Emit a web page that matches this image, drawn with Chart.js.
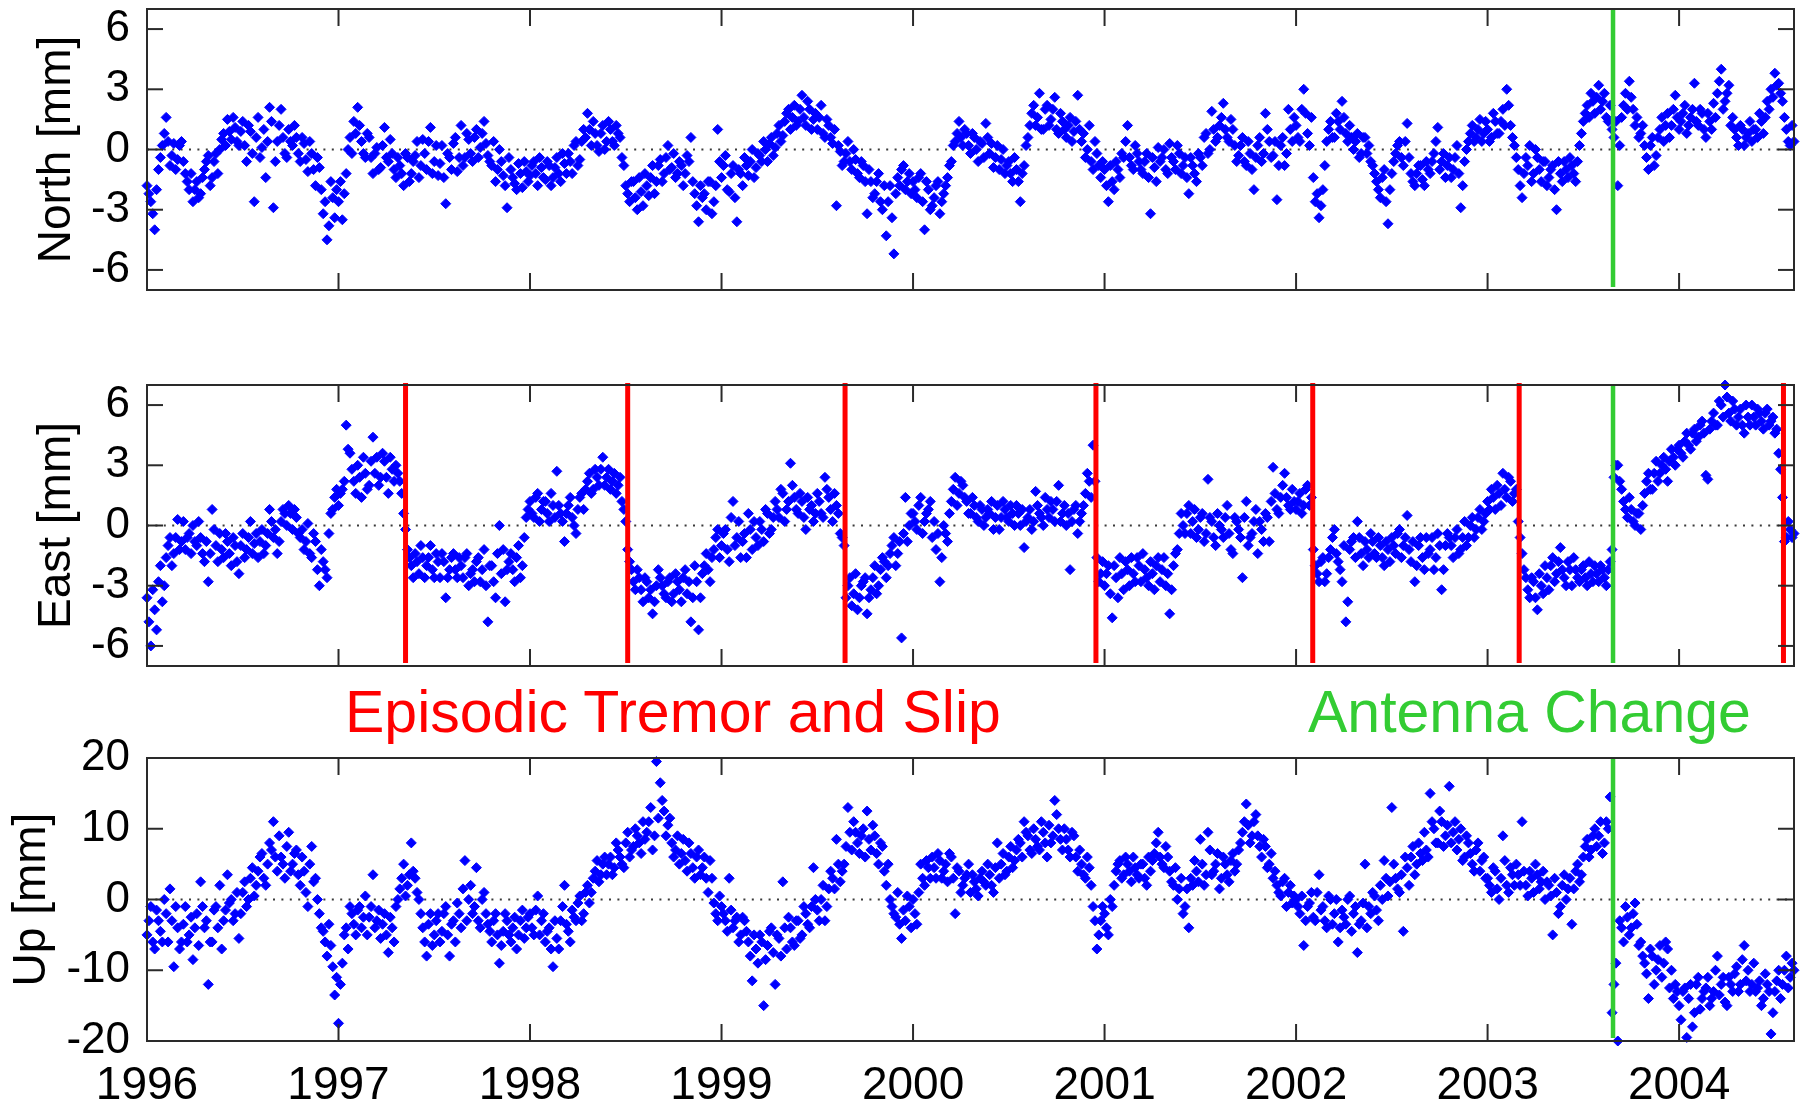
<!DOCTYPE html>
<html lang="en">
<head>
<meta charset="UTF-8">
<title>GPS time series</title>
<script src="https://cdn.jsdelivr.net/npm/chart.js"></script>
<style>
  body { margin: 0; background: #fff; }
  .wrap { position: relative; width: 1800px; height: 1103px; }
  canvas { position: absolute; left: 0; }
  .note { position: absolute; font-family: 'Liberation Sans', Arial, sans-serif; font-size: 59px; line-height: 59px; white-space: nowrap; }
</style>
</head>
<body>
<div class="wrap">
  <canvas id="north" width="1800" height="300" style="top:0"></canvas>
  <canvas id="east" width="1800" height="300" style="top:375px"></canvas>
  <canvas id="up" width="1800" height="403" style="top:700px"></canvas>
  <div class="note" style="left:345px;top:683px;color:#ff0000">Episodic Tremor and Slip</div>
  <div class="note" style="left:1308px;top:683px;color:#33cc33">Antenna Change</div>
</div>
<script>
// solutions every 0.02 yr from 1996.00, plus the in-between days (from 1996.01)
const t0 = 1996, dt = 0.02;

const north = [
  -1.8,-2.6,-4.0,-1.0,0.2,1.6,-0.8,0.3,-0.5,0.4,-1.2,-2.0,-2.6,-1.6,-2.2,-1.0,-0.3,-1.4,-0.2,0.0,0.8,1.5,0.5,1.1,0.2,
  1.4,-0.6,0.9,-2.6,1.6,0.1,-1.4,2.1,-2.9,0.4,2.0,-0.2,1.0,0.2,0.6,-0.6,0.3,-1.1,-0.2,-1.8,-0.9,-3.2,-4.5,-1.6,-3.4,
  -2.6,-3.5,-1.2,0.6,1.4,2.1,0.4,-0.4,0.6,-1.2,0.1,-0.9,1.1,-0.6,-0.2,-1.4,-0.8,-1.8,-0.4,-1.2,-0.3,-1.4,0.5,-1.0,1.1,
  -0.6,-1.3,0.2,-2.7,-0.4,0.3,-1.1,1.2,-0.4,0.5,-0.6,1.0,0.1,1.4,-0.3,-0.8,-1.6,0.0,-1.3,-2.9,-1.0,-1.7,-0.7,-1.9,-1.1,
  -1.3,-0.6,-1.8,-0.9,-1.5,-0.8,-1.4,-0.4,-1.6,-0.7,-0.2,-1.2,0.4,-0.5,1.0,1.8,0.2,0.8,-0.1,1.2,0.4,1.0,0.2,0.8,-0.4,
  -1.8,-2.6,-1.6,-3.0,-2.1,-1.2,-2.3,-0.8,-1.6,-0.5,-1.2,0.2,-0.9,-1.4,-0.6,-1.8,-0.3,0.6,-2.2,-3.6,-2.4,-3.0,-1.6,-2.6,1.0,
  -1.4,-0.3,-2.1,-0.8,-3.6,-1.2,-0.4,-1.3,0.0,-0.9,-0.3,0.4,-0.6,0.6,0.1,1.2,0.7,1.8,1.0,2.2,1.4,2.7,1.2,2.0,1.5,
  1.0,2.2,0.6,1.2,0.3,-2.8,-0.1,-0.6,0.4,-1.0,-0.5,-1.4,-0.8,-3.2,-1.6,-2.2,-1.2,-3.0,-4.3,-1.8,-5.2,-1.4,-1.0,-2.0,-1.2,
  -1.6,-2.4,-1.2,-4.0,-2.0,-2.8,-1.8,-3.2,-2.2,-1.4,-0.6,0.4,1.4,0.2,0.8,-0.2,0.6,-0.6,0.3,1.3,-0.2,-0.9,0.2,-0.5,-1.2,
  -0.6,-1.6,-1.0,-2.6,-0.8,0.6,1.8,1.2,2.8,1.0,2.2,1.5,2.6,0.8,1.4,0.6,1.6,0.9,2.7,0.4,-0.4,1.2,-1.0,-0.2,-1.4,
  -1.0,-2.6,-1.6,-0.6,-1.4,-0.4,1.2,-0.8,0.2,-0.6,-1.2,-0.2,-3.2,-0.9,0.1,-0.4,-1.0,0.3,-0.6,0.2,-1.2,-0.4,-2.2,-0.8,-1.6,
  -0.4,0.6,-0.2,1.9,0.4,1.2,2.3,0.6,1.5,0.2,-0.3,0.6,-0.8,-0.2,-2.0,0.2,-0.6,1.8,0.4,-0.3,-2.5,0.2,-0.8,2.0,0.4,
  1.2,0.4,3.0,0.8,1.6,-2.6,-3.4,-2.0,0.4,1.4,0.6,1.4,2.4,0.8,1.2,0.0,0.8,-0.2,0.6,0.2,-0.8,-1.6,-2.4,-1.0,-3.7,
  -1.2,-0.2,0.4,-0.8,1.3,-1.2,-1.8,-0.8,-1.5,-0.6,-1.2,-0.2,1.1,-0.6,-1.4,-0.4,-1.0,0.2,-2.9,-0.6,0.4,1.2,0.6,1.5,0.8,
  1.0,0.6,1.4,0.8,2.0,3.0,1.2,0.2,-1.0,-2.4,-0.4,0.2,-1.2,-0.4,-1.6,-0.6,-1.4,-0.8,-3.0,-1.2,-0.6,-1.4,-0.8,-1.6,0.2,
  1.4,2.2,2.8,1.8,3.2,2.4,1.6,2.2,0.6,-1.8,1.6,2.8,3.4,2.0,1.6,0.8,0.2,-1.0,0.6,-0.3,1.0,0.4,1.8,1.2,2.7,
  1.0,1.8,0.8,1.6,3.3,1.2,1.8,0.6,1.4,2.3,2.8,4.0,2.4,3.2,1.6,0.6,1.2,0.2,0.8,0.4,1.0,1.8,0.8,2.4,3.0,3.8,3.3,2.4,1.0,0.2,0.4
];
const northMid = [
  -2.2,-3.2,-2.0,-0.4,0.8,0.4,-0.3,-1.0,0.2,-0.6,-1.6,-1.2,-2.0,-2.4,-1.4,-0.6,-1.8,-0.6,-1.2,0.5,0.2,0.9,1.6,0.4,0.9,
  0.2,1.2,-0.2,0.6,-0.4,1.0,0.4,1.4,-0.6,1.2,0.6,-0.4,0.4,1.2,-0.2,0.6,-0.5,0.4,-1.0,-0.4,-2.0,-2.6,-3.8,-2.4,-2.0,
  -1.6,-2.2,0.0,-0.2,0.8,1.2,-0.2,0.8,-0.4,-0.2,-1.0,0.2,-0.4,0.5,-1.0,-0.4,-1.2,-0.2,-1.6,-0.6,0.4,-0.8,-0.2,0.4,-1.2,
  0.2,-0.7,-1.4,-0.2,-1.0,0.6,-0.4,-0.8,0.8,-0.2,0.6,-0.4,0.8,0.3,-0.6,0.4,-1.0,-0.6,-1.8,-0.4,-1.4,-2.0,-1.2,-0.6,-1.6,
  -0.8,-1.2,-0.4,-1.4,-0.6,-1.8,-0.9,-1.2,-0.2,-1.2,-0.6,0.2,-0.8,0.4,0.6,1.0,1.4,0.2,0.8,0.0,1.4,0.4,1.2,0.6,-0.8,
  -2.2,-1.6,-2.4,-1.4,-2.8,-1.8,-1.4,-2.2,-0.8,-1.6,-0.4,-1.0,-0.2,-1.2,-0.8,-1.2,-0.6,-1.6,-2.8,-1.8,-2.2,-1.6,-3.2,-1.8,-0.6,
  -0.8,-2.0,-1.2,-2.4,-1.0,-1.8,-0.8,-0.6,-1.4,-0.2,-0.6,0.0,0.3,-0.3,0.8,0.4,1.4,2.0,1.6,1.2,2.0,1.6,2.4,1.0,1.8,
  1.6,0.8,1.5,0.6,1.0,0.2,-0.8,-0.2,-0.6,0.0,-1.2,-0.6,-1.6,-1.0,-2.4,-1.6,-2.6,-1.8,-2.6,-3.4,-2.2,-1.8,-0.8,-1.6,-2.2,
  -2.0,-1.4,-2.6,-1.6,-3.0,-2.4,-1.6,-2.6,-1.8,-0.8,0.2,0.8,0.6,1.0,0.2,0.8,0.0,0.4,-0.4,0.6,0.3,-0.4,-1.0,0.0,-0.8,
  -1.2,-0.4,-1.6,-1.2,0.2,1.2,2.2,1.6,1.0,2.0,1.2,2.0,1.0,1.8,1.0,1.2,0.4,1.4,1.0,0.8,0.0,-0.6,0.4,-0.8,-0.6,
  -1.8,-0.8,-2.0,-1.0,-0.2,0.4,-0.4,-1.0,-0.2,-1.0,-0.6,-1.4,-0.4,-1.6,-0.6,0.0,-1.2,-0.4,-1.0,-0.2,-0.8,-1.4,-0.4,-1.2,-0.2,
  -0.8,0.8,0.0,1.0,0.6,1.6,1.0,0.4,1.0,-0.6,0.2,-0.6,0.4,-1.0,-0.4,0.6,-0.2,1.0,-0.4,0.4,-0.8,0.6,-0.2,1.0,1.6,
  0.6,2.0,1.8,0.2,-1.4,-2.2,-2.8,-0.8,1.0,0.6,1.8,1.0,1.6,0.4,0.6,0.4,-0.4,0.6,-0.2,-0.6,-1.2,-2.0,-1.4,-2.6,-2.0,
  -0.6,0.2,-0.4,0.4,-0.4,-1.6,-1.2,-0.8,-1.8,-1.0,-0.6,0.4,-1.0,-0.2,-0.8,-1.4,-0.4,-1.2,-1.8,0.0,0.8,0.4,1.0,0.4,1.4,
  0.4,1.8,0.8,1.4,1.2,2.2,0.6,-0.4,-1.8,-1.2,-0.8,-1.6,0.0,-1.0,-0.6,-1.8,-1.0,-2.0,-0.6,-1.6,-1.0,-0.4,-1.2,-0.6,0.8,
  1.8,1.6,2.4,2.6,2.0,2.8,1.4,1.0,1.4,0.2,2.2,2.0,2.6,1.2,0.6,1.2,-0.4,0.2,-0.8,0.6,1.6,1.2,0.6,2.0,1.6,
  1.4,2.2,1.2,2.0,1.4,2.0,1.0,1.8,1.0,1.6,3.4,2.0,2.8,1.2,1.0,0.2,1.0,0.6,1.4,1.0,0.6,1.4,1.6,2.0,2.6,3.2,2.8,1.6,0.4,1.2
];

const east = [
  -3.6,-6.0,-4.2,-2.8,-3.8,-1.6,-0.6,-1.4,0.3,-0.8,-1.2,-0.4,0.0,-1.0,-0.6,-1.8,-2.8,0.8,-1.0,-0.4,-1.6,-0.8,-2.0,-1.0,-2.4,
  -0.4,-1.2,0.2,-0.9,-1.6,-0.2,-1.0,0.8,-0.6,-1.4,0.2,0.6,1.0,-0.2,0.4,-0.6,-1.2,0.1,-1.6,-0.8,-3.0,-1.8,-2.6,0.6,1.4,
  1.0,1.8,5.0,3.6,2.2,3.0,1.4,2.6,2.0,4.4,3.4,2.4,3.2,1.6,2.8,3.0,2.2,0.6,-1.2,-2.0,-1.4,-2.4,-1.6,-2.0,-1.0,
  -2.6,-1.8,-1.4,-3.6,-2.2,-1.4,-2.6,-2.0,-1.6,-3.0,-2.2,-1.8,-2.8,-1.2,-4.8,-2.0,-3.6,0.0,-1.2,-2.2,-1.4,-2.8,-1.0,-2.0,0.4,
  1.2,0.4,1.6,0.8,1.2,0.2,1.0,2.7,0.6,-0.8,1.0,0.4,-0.4,1.4,0.8,2.2,1.6,2.8,2.0,3.4,2.4,1.8,2.6,2.0,1.2,
  0.2,-1.8,-2.8,-2.2,-3.2,-2.6,-3.6,-4.4,-3.0,-2.6,-3.4,-2.8,-3.8,-2.4,-3.2,-2.6,-3.4,-4.8,-2.0,-5.2,-2.4,-1.4,-2.8,-1.2,-0.2,
  -1.0,-0.2,-1.8,1.2,-0.6,-1.6,-0.4,0.6,-1.2,-0.6,0.2,-0.8,0.6,-0.2,1.2,0.4,1.6,0.8,3.1,1.4,0.6,1.2,-0.2,0.8,0.2,
  1.6,0.6,2.4,1.4,0.2,1.0,-0.4,-1.0,-3.0,-4.0,-2.4,-3.6,-2.8,-4.4,-3.2,-2.0,-3.0,-1.6,-2.6,-1.4,-0.6,-1.4,-5.6,1.4,0.0,
  0.6,-0.2,1.4,0.2,0.8,-0.6,-1.2,-2.8,0.0,-0.8,1.2,2.4,1.6,2.0,1.2,0.6,1.0,0.2,0.8,0.4,0.6,-0.2,1.0,0.4,0.8,
  0.2,0.6,1.0,0.0,-1.1,0.4,-0.2,1.7,0.6,0.0,0.8,1.2,0.2,2.0,0.6,0.0,-2.2,0.8,-0.4,0.6,1.6,2.2,4.0,-1.6,-2.4,
  -3.0,-2.0,-4.6,-2.6,-1.6,-3.2,-2.2,-1.6,-2.8,-2.0,-1.4,-2.6,-1.8,-3.2,-1.6,-2.2,-3.0,-4.4,-2.0,-1.2,0.6,-0.4,1.0,0.2,-0.6,
  0.4,-0.8,2.3,0.2,-1.0,0.0,-0.6,1.0,-1.2,0.4,-0.2,-2.6,1.2,-0.6,0.2,-1.4,-0.2,0.6,-0.8,2.9,0.8,1.4,2.6,1.0,1.8,
  0.8,1.6,1.0,2.0,1.4,-2.0,-2.8,-1.6,-2.4,-1.2,-0.2,-1.8,-2.8,-4.8,-1.2,-0.6,0.2,-1.4,-0.8,-1.6,-0.8,-1.6,-1.0,-2.0,-1.2,
  -0.6,-1.4,-0.2,-1.0,0.5,-1.8,-2.8,-1.0,-1.6,-0.6,-1.2,-2.2,-0.4,-3.2,-1.0,-0.6,-1.6,-0.2,-1.2,0.2,-0.6,0.4,-0.2,0.8,0.2,
  1.2,1.8,0.8,1.6,2.6,1.4,2.2,1.6,0.2,-1.4,-2.6,-3.6,-2.8,-4.2,-3.0,-2.0,-3.2,-1.6,-2.4,-1.1,-2.6,-1.8,-3.0,-2.2,-2.8,
  -2.0,-3.0,-2.4,-2.0,-2.8,-2.2,-3.0,-1.8,2.4,3.0,1.8,0.8,1.4,0.2,0.6,-0.2,1.6,2.6,1.8,3.2,2.6,3.4,2.2,3.8,3.0,
  4.0,3.4,4.6,3.8,4.8,4.4,5.2,2.5,4.8,5.6,5.0,6.0,7.0,5.6,6.2,5.0,5.8,4.6,5.4,6.0,5.0,5.6,4.8,5.8,5.2,4.6,3.6,1.4,-0.6,-0.2,-0.4
];
const eastMid = [
  -4.8,-3.2,-5.2,-2.0,-3.0,-1.0,-2.0,-0.6,-1.2,0.2,-0.6,-1.4,-0.8,0.2,-1.4,-0.8,-1.4,-0.2,-1.8,-1.2,-0.4,-1.4,-0.6,-1.8,-1.0,
  -1.6,-0.6,-1.4,-0.4,-0.8,-1.4,-0.4,0.2,-0.2,-0.8,0.8,0.0,0.6,0.8,-0.4,-0.2,-0.8,-1.4,-0.4,-2.2,-1.2,-2.2,-0.4,0.8,1.8,
  1.6,2.2,3.8,2.8,1.6,2.4,3.4,1.8,3.2,2.6,2.0,3.6,2.4,3.4,2.2,2.6,1.6,-0.2,-1.6,-2.6,-1.8,-1.0,-2.6,-1.6,-2.2,
  -1.4,-2.6,-1.8,-2.6,-1.6,-2.2,-1.6,-2.6,-1.4,-2.4,-2.8,-1.6,-2.2,-3.0,-2.0,-2.8,-1.4,-2.4,-3.8,-1.8,-2.2,-1.6,-2.6,-0.6,0.8,
  0.6,1.4,0.2,1.2,0.6,1.6,0.4,1.0,0.2,0.6,1.4,0.0,0.8,1.6,1.8,2.6,1.8,2.4,2.8,2.0,2.8,2.2,1.6,2.4,0.8,
  -1.2,-2.2,-3.2,-2.6,-3.8,-2.8,-3.2,-3.8,-2.2,-3.0,-3.6,-2.6,-3.4,-2.8,-3.8,-2.2,-2.8,-3.6,-2.8,-3.6,-2.0,-2.2,-1.6,-0.6,-1.6,
  -0.4,-1.2,0.4,-1.0,0.2,-0.8,-1.6,-0.2,0.2,-1.0,-0.2,0.8,-0.4,0.4,0.8,1.8,0.2,1.2,2.0,0.8,1.6,0.4,1.4,1.0,0.6,
  1.2,0.4,1.8,0.8,1.6,0.6,-0.6,-3.6,-2.6,-3.4,-4.2,-3.0,-2.6,-3.6,-2.6,-3.4,-2.2,-1.8,-2.0,-1.0,-2.0,-0.8,-0.4,-0.8,0.6,
  0.2,1.0,-0.4,0.6,1.2,0.2,-0.4,-1.6,-0.4,0.6,1.8,1.0,2.2,1.4,0.6,1.4,0.4,1.0,0.0,0.8,1.2,0.4,-0.2,1.2,0.4,
  1.0,0.0,0.6,0.8,0.2,0.8,0.2,1.0,0.4,1.4,0.4,0.8,1.2,0.2,1.0,0.6,0.2,1.0,0.2,1.0,2.6,1.4,2.2,-2.8,-1.8,
  -2.4,-3.4,-2.0,-3.6,-2.4,-1.8,-3.0,-2.4,-1.6,-2.8,-2.2,-3.0,-2.4,-2.0,-2.8,-1.6,-2.4,-3.2,-1.4,-0.4,0.0,0.6,-0.4,0.8,-0.2,
  0.6,-0.4,0.4,-0.6,0.6,-0.2,0.4,-0.4,-1.4,0.2,-0.6,0.4,-1.0,-0.4,0.8,0.2,-0.8,0.4,1.2,1.6,0.6,2.0,1.4,0.8,1.2,
  1.2,0.6,1.8,1.0,-1.2,-2.4,-1.8,-2.8,-1.6,-0.6,-1.4,-2.2,-1.0,-3.8,-0.8,-1.6,-0.6,-2.0,-1.2,-0.4,-1.4,-0.6,-1.6,-0.8,-1.8,
  -1.0,-0.4,-1.6,-0.6,-1.2,-0.8,-2.0,-0.6,-2.2,-1.4,-0.6,-1.6,-1.0,-2.2,-0.4,-1.0,-0.6,-1.4,-0.6,-1.0,0.0,-0.6,0.4,-0.2,0.6,
  0.8,1.4,2.0,1.0,1.8,2.4,1.2,1.8,-0.6,-2.2,-3.2,-2.6,-3.6,-2.4,-3.4,-2.6,-2.0,-2.8,-1.8,-2.2,-3.0,-2.2,-1.6,-2.6,-2.2,
  -2.6,-1.8,-2.8,-2.4,-2.0,-2.6,-2.2,-1.2,3.0,2.2,1.2,0.4,0.8,0.0,0.6,1.0,2.2,1.8,2.6,2.2,3.0,2.8,3.2,3.4,3.8,
  3.6,4.2,4.0,4.6,4.2,5.0,4.6,2.3,5.2,5.0,6.2,5.4,6.4,5.2,5.8,5.4,5.0,6.0,5.0,5.4,5.8,5.2,5.6,5.0,5.4,4.8,2.8,-0.8,0.2,-0.6
];

const up = [
  -5,-1,-7,-3,-6,-2,1.5,-9.5,-4,-6,-1,-5,-8.5,-2,2.5,-4,-12,-6,-1,2,-3,3.5,0,-2,-5.5,
  1,-1,3,0.5,4,6.5,2,8,11,4,6,3,9.5,5,7,2,4,-1,7.5,3,-2,-4.5,-8,-6.5,-13.5,
  -17.5,-9,-4,-1,-3.5,-1.5,-4,0.5,-2.5,3.5,-3,-5.5,-2,-7.5,-4,-1,1.5,5,2,8,3,0,-4,-8,-2,
  -5,-2,-4.5,-1,-8,-3,-0.5,-4,5.5,0,-2,4.5,-4,1,-3.5,-6,-2,-9,-4.5,-3,-6,-2.5,-5,-1.5,-4,
  -2,-5,0.5,-3,-6,-4,-9.5,-5.5,-3,2,-4.5,-1.5,-3,0.5,-2,2,1,4,2.5,5,3.5,6,4.5,7,5,
  8,6,7.5,9,6.5,8.5,11,7,19.5,16.5,12.5,10.5,8,7,5,8.5,4,6.5,3,7,4.5,3,5.5,-0.5,-3,
  -1,-3,3,-4,-2.5,-5,-3,-6,-11.5,-7,-5,-15,-6.5,-4,-12,-5.5,2.5,-7,-4,-6.5,-3,-5,-2,-4,4.5,
  -1.5,0,-3,1.5,3,8.5,2.5,5,13,7,9.5,6.5,10,12.5,7,9,5,7.5,2,0,-2,1,-5.5,-3,-1,
  0,-3.5,5,2,4.5,6,3,5.5,4,2.5,6,-2,4,2,3.5,1,2.5,0.5,4,2,3.5,1,8,5,3.5,
  6,4.5,7,8,11,9,6.5,8.5,7,9.5,6,8,14,10,7,8.5,6,9,4,5,3,4.5,-1,-7,-3,
  -2,-5,-1,4,5.5,3.5,5,2.5,4.5,3,5,2,4,6.5,9.5,5,7.5,4,2,0,3,-1,-4,2,4,
  8.5,2,9.5,3.5,5,1.5,6,3.5,5.5,4,7,9.5,13.5,8,11,9,6,7.5,5,3,2,0.5,3,1,-0.5,
  0,-2,-6.5,-1,1,-3,3.5,-1,-4,0,-2,-6,-1.5,-3.5,0.5,-2,-7.5,-3,5,-1,1,-1.5,2,5.5,0.5,
  13,3,1,-4.5,4.5,6,3.5,8,5.5,7,15,10,8,11,9,16,9.5,7,10,6,8,5,7,4,6,
  3,1,4,0,9,2,4.5,2,3.5,11,2,4,1,3.5,2.5,0,2,-5,1,-1,3.5,1.5,-3.5,4,2.5,
  6,8.5,7,10,9,6.5,11,14.5,-12,-20,-4,-1,-5,-2,-3.5,-6,-9,-14,-8,-10,-6.5,-9,-7,-10,-12,
  -15,-13,-19.5,-12,-16,-11,-14,-12.5,-15,-13,-8,-12,-14.5,-11,-13,-9.5,-12,-6.5,-10,-12,-13,-11.5,-14,-12,-19,-13,-10,-12,-8,-11,-10
];
const upMid = [
  -3,-6,-1.5,-4.5,0,-6,-3,-1,-7,-3.5,-6,-2.5,-4,-6.5,-1,-3,-6,-1.5,-4,-7,-1.5,-0.5,-3,1,-2,
  2.5,0,4.5,2,6,3,5,7,6,9,5,7.5,4,6.5,3.5,6,1,5,2.5,0,-4,-6,-3.5,-9.5,-11,
  -12,-5,-7,-2,-5,-1,-2.5,-5,-1,-4,-1.5,-3.5,-5,-2.5,-6,0,3,0.5,3.5,4,1,-2,-6,-3.5,-6.5,
  -3,-6,-2,-5,-3.5,-6,-2,1.5,-3,2,-1,-3,0,-2,-4.5,-3,-5,-6.5,-2,-5,-4,-7,-3,-5.5,-2.5,
  -4,-1.5,-5,-2,-4.5,-7,-3,-7,-1,-3.5,-6,-2.5,-0.5,-3,1,-0.5,3,5.5,3.5,6,5,3.5,8,6,4.5,
  9.5,7,10,8,11,9.5,13,9,11.5,14,9,11.5,6,9,6.5,5.5,8,4.5,6,3.5,6,1,3,-2,0.5,
  -2,-4.5,-1.5,-3,-6,-2.5,-4.5,-8,-5,-9,-6,-8.5,-4.5,-7.5,-5,-8,-4,-2.5,-6,-3,-5.5,-1,-3.5,-1,0,
  -3,2,-1,4,1.5,5,4,7.5,9.5,11,8,9,6,8.5,10.5,6.5,8,4,5,-1,-2.5,-3.5,-1.5,0.5,-4,
  -2,1,3,5.5,3,4.5,6.5,3,5,6.5,3,4.5,1,3,5,3.5,1.5,3,2.5,5,2,4.5,3,6.5,4,
  7.5,5.5,8.5,6,9.5,7,10,7.5,11,8,10.5,9,12,8.5,10,7,9.5,6,7,3.5,6,2,-3,-5,-1,
  -4,0,2,5,3,6,4,6,3.5,5,3,6,5.5,8,6,4.5,6,2.5,4.5,1.5,-2,1.5,3,5.5,2.5,
  5,3.5,7,4,6.5,3,5,2.5,6.5,5,8,11,10.5,9,12,7.5,8.5,4.5,6.5,4,1,2.5,-1,2,0.5,
  -1,0.5,-3,-0.5,-2.5,1,-1.5,-3,0.5,-3.5,0,-4,-2.5,0,-4.5,-1,-3.5,-0.5,-4,-2,0.5,-3,0,3,2.5,
  5,1.5,3.5,6,2,7.5,5,6.5,9.5,6,11,8,12.5,7.5,10.5,8,11,8.5,5.5,9,6.5,4,8,5.5,3,
  2,4.5,1.5,3,5.5,1,3.5,5,2,4,0.5,3,5,1.5,4,2.5,0.5,3,-2,2,0,3,1.5,5,3.5,
  7.5,6,9,7.5,11,8,10,-16,-9,-3,-6,-2.5,-4,-0.5,-6.5,-8,-10.5,-7,-12,-8.5,-11,-6,-12.5,-14,-13,
  -17,-12.5,-14,-18,-12,-15.5,-13,-11,-14,-10,-13.5,-11,-15,-12,-10.5,-13,-8.5,-11.5,-13,-9,-12.5,-15,-10.5,-13,-16,-11.5,-14,-10,-12.5,-9
];

const yearTicks = [1996, 1997, 1998, 1999, 2000, 2001, 2002, 2003, 2004];
const mmTicks = [-6, -3, 0, 3, 6];
const upTicks = [-20, -10, 0, 10, 20];
const etsEpochs = [1997.35, 1998.51, 1999.645, 2000.955, 2002.087, 2003.165, 2004.545];
const antennaEpoch = 2003.655;

const fam = "'Liberation Sans', Arial, sans-serif";

// box, inside tick marks, dotted zero line and event lines
const frame = {
  id: 'frame',
  beforeDatasetsDraw(chart) {
    const {ctx, chartArea: a, scales: {y}} = chart;
    const y0 = y.getPixelForValue(0);
    ctx.save();
    ctx.strokeStyle = '#3a3a3a';
    ctx.lineWidth = 2;
    ctx.setLineDash([2, 6.4]);
    ctx.beginPath(); ctx.moveTo(a.left, y0); ctx.lineTo(a.right, y0); ctx.stroke();
    ctx.restore();
  },
  afterDatasetsDraw(chart, args, opts) {
    const {ctx, chartArea: a, scales: {x, y}} = chart;
    const seg = (x1, y1, x2, y2) => { ctx.beginPath(); ctx.moveTo(x1, y1); ctx.lineTo(x2, y2); ctx.stroke(); };
    ctx.save();
    ctx.lineWidth = 5;
    ctx.strokeStyle = '#ff0000';
    (opts.ets || []).forEach(t => {
      const px = x.getPixelForValue(t);
      seg(px, a.top - 2, px, a.bottom - 3);
    });
    ctx.lineWidth = 4.5;
    ctx.strokeStyle = '#33cc33';
    const g = x.getPixelForValue(antennaEpoch);
    seg(g, a.top - 1, g, a.bottom - 3);

    ctx.strokeStyle = '#2a2a2a';
    ctx.lineWidth = 2;
    ctx.strokeRect(a.left, a.top, a.width, a.height);
    x.ticks.forEach(t => {
      const px = x.getPixelForValue(t.value);
      seg(px, a.top, px, a.top + 17);
      seg(px, a.bottom, px, a.bottom - 17);
    });
    y.ticks.forEach(t => {
      const py = y.getPixelForValue(t.value);
      seg(a.left, py, a.left + 16, py);
      seg(a.right, py, a.right - 16, py);
    });
    ctx.restore();
  }
};

const marker = {
  pointStyle: 'rectRot',
  pointRadius: 5,
  pointBorderWidth: 1,
  backgroundColor: '#0000ff',
  borderColor: '#0000ff',
  clip: false
};

function makePanel(id, values, mids, o) {
  return new Chart(document.getElementById(id), {
    type: 'scatter',
    data: {
      datasets: [
        {...marker, data: values.map((v, i) => ({x: t0 + i * dt, y: v}))},
        {...marker, data: mids.map((v, i) => ({x: t0 + dt / 2 + i * dt, y: v}))}
      ]
    },
    options: {
      responsive: false,
      animation: false,
      events: [],
      layout: {padding: o.pad},
      plugins: {
        legend: {display: false},
        tooltip: {enabled: false},
        frame: {ets: o.ets}
      },
      scales: {
        x: {
          type: 'linear', min: 1996, max: 2004.6,
          grid: {display: false}, border: {display: false},
          afterBuildTicks: s => { s.ticks = yearTicks.map(v => ({value: v})); },
          ticks: {display: o.xLabels, color: '#000', padding: 10, maxRotation: 0, autoSkip: false,
                  font: {family: fam, size: 46}, callback: v => String(v)},
          afterFit: s => { s.height = o.xLabels ? 62 : 0; s.paddingLeft = 0; s.paddingRight = 0; }
        },
        y: {
          min: o.min, max: o.max,
          grid: {display: false}, border: {display: false},
          afterBuildTicks: s => { s.ticks = o.yTicks.map(v => ({value: v})); },
          ticks: {color: '#000', padding: 9, font: {family: fam, size: 44}, callback: v => String(v)},
          title: {display: true, text: o.title, color: '#000', font: {family: fam, size: 46},
                  padding: {top: o.titlePad, bottom: 0}},
          afterFit: s => { s.width = 147; s.paddingTop = 0; s.paddingBottom = 0; }
        }
      }
    },
    plugins: [frame]
  });
}

makePanel('north', north, northMid, {title: 'North [mm]', min: -7, max: 7, yTicks: mmTicks, ets: [],
  pad: {top: 9, bottom: 10, left: 0, right: 2}, xLabels: false, titlePad: 30});
makePanel('east', east, eastMid, {title: 'East [mm]', min: -7, max: 7, yTicks: mmTicks, ets: etsEpochs,
  pad: {top: 10, bottom: 9, left: 0, right: 2}, xLabels: false, titlePad: 30});
makePanel('up', up, upMid, {title: 'Up [mm]', min: -20, max: 20, yTicks: upTicks, ets: [],
  pad: {top: 58, bottom: 0, left: 0, right: 2}, xLabels: true, titlePad: 5});
</script>
</body>
</html>
